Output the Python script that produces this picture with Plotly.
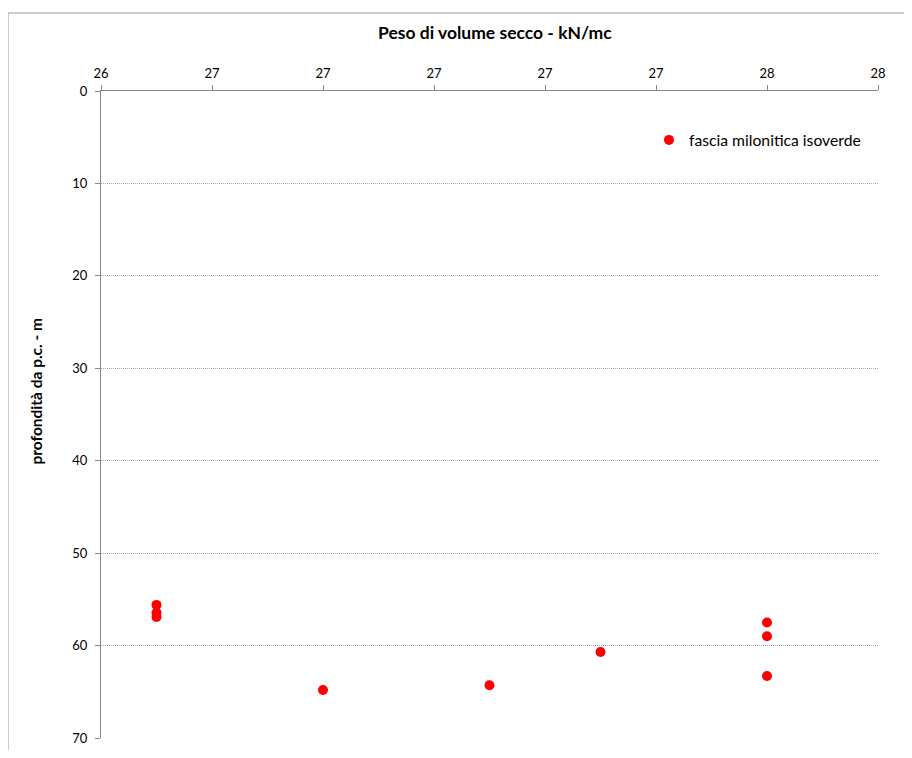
import plotly.graph_objects as go

# Data
peso = [26.5, 26.5, 26.5, 26.8, 27.1, 27.3, 27.6, 27.6, 27.6]
profondita = [55.6, 56.45, 56.9, 64.8, 64.3, 60.7, 57.5, 59.0, 63.3]
series_name = "fascia milonitica isoverde"
x_title = "Peso di volume secco - kN/mc"
y_title = "profondità da p.c. - m"

x_tickvals = [26.4, 26.6, 26.8, 27.0, 27.2, 27.4, 27.6, 27.8]
x_ticktext = ["26", "27", "27", "27", "27", "27", "28", "28"]
y_tickvals = [0, 10, 20, 30, 40, 50, 60, 70]

FONT = "Lato"
AXIS_COLOR = "#868686"

# page body has an 8px default margin: figure origin sits at page (8, 8)
W, H = 896, 742
L, T = 93, 83
PW, PH = 777, 647

fig = go.Figure()
fig.add_trace(go.Scatter(
    x=peso, y=profondita, mode="markers", name=series_name,
    marker=dict(color="#ff0000", size=10, line=dict(width=0)),
))

fig.update_layout(
    width=W, height=H,
    margin=dict(l=L, r=W - L - PW, t=T, b=H - T - PH, autoexpand=False),
    paper_bgcolor="white", plot_bgcolor="white",
    font=dict(family=FONT, size=13, color="#000000"),
    showlegend=True,
    legend=dict(x=(641 - L) / PW, y=0.924, xanchor="left", yanchor="middle",
                bgcolor="rgba(0,0,0,0)", font=dict(size=15.7, family=FONT),
                itemwidth=30, tracegroupgap=0),
    xaxis=dict(
        side="top", range=[26.4, 27.8], tickmode="array",
        tickvals=x_tickvals, ticktext=x_ticktext,
        showgrid=False, zeroline=False,
        showline=True, linecolor=AXIS_COLOR, linewidth=1,
        ticks="outside", ticklen=5, tickcolor=AXIS_COLOR,
        ticklabelstandoff=2,
        tickfont=dict(size=13, family=FONT),
    ),
    yaxis=dict(
        range=[70, 0], tickmode="array", tickvals=y_tickvals,
        showgrid=True, gridcolor="#a6a6a6", griddash="1px,1px", gridwidth=1,
        zeroline=False,
        showline=True, linecolor=AXIS_COLOR, linewidth=1,
        ticks="outside", ticklen=5, tickcolor=AXIS_COLOR,
        ticklabelstandoff=5,
        tickfont=dict(size=13, family=FONT),
    ),
    annotations=[
        dict(text="<b>" + x_title + "</b>", xref="paper", yref="paper",
             x=(487 - L) / PW, y=1 + (T - 25) / PH, xanchor="center", yanchor="middle",
             showarrow=False, font=dict(size=17.5, family=FONT)),
        dict(text="<b>" + y_title + "</b>", xref="paper", yref="paper",
             x=(27 - L) / PW, y=1 - (383.5 - T) / PH, xanchor="center", yanchor="middle",
             textangle=-90, showarrow=False, font=dict(size=15.5, family=FONT)),
    ],
    shapes=[dict(type="rect", xref="paper", yref="paper",
                 x0=(0 - L) / PW, x1=(W + 10 - L) / PW,
                 y0=-(H + 10 - T - PH) / PH, y1=1 + (T - 5) / PH,
                 line=dict(color="#999999", width=1), layer="below")],
)

fig.write_html("out.html")
